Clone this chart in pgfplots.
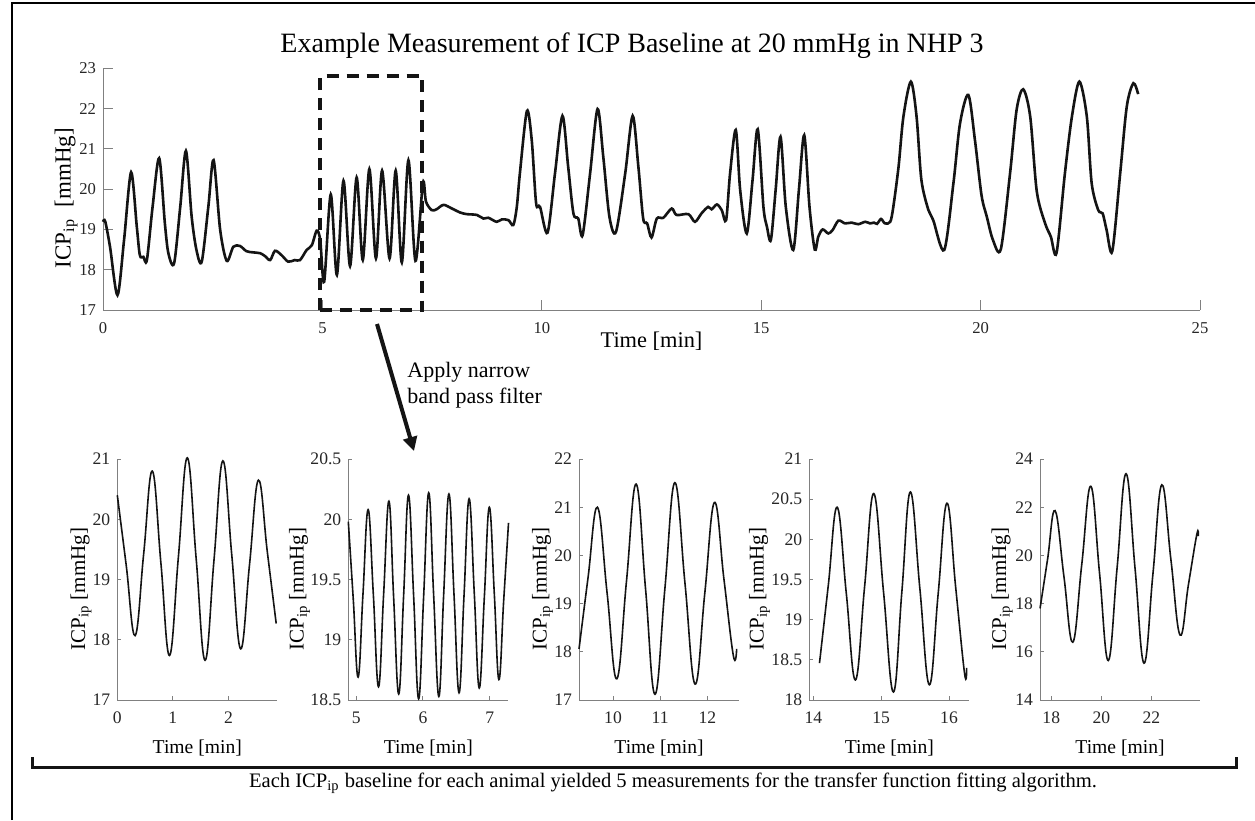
\documentclass[border=0pt]{standalone}
\usepackage{pgfplots}
\pgfplotsset{compat=1.18}
\usepackage{fontspec}
\setmainfont{Liberation Serif}
\usetikzlibrary{arrows.meta,calc}
\definecolor{axgray}{gray}{0.5}
\definecolor{tickc}{gray}{0.15}
\definecolor{curve}{gray}{0.08}
\pgfplotsset{
  base/.style={
    scale only axis, anchor=south west,
    axis x line*=bottom, axis y line*=left,
    axis line style={draw=axgray, line width=0.5bp},
    tick style={draw=axgray, line width=0.5bp},
    tick align=inside,
    /pgf/number format/assume math mode=true,
    tick label style={font=\fontsize{8.3bp}{9.6bp}\selectfont, text=tickc},
    xticklabel style={anchor=base, yshift=-11.5bp},
    clip=false,
  },
  yl/.style 2 args={ylabel style={at={($(axis description cs:0,#2)+(#1,0)$)}, anchor=south, inner sep=0pt}},
  small/.style={base, width=80bp, height=120.5bp, major tick length=2bp,
    tick label style={font=\fontsize{8.8bp}{10bp}\selectfont},
    xlabel style={at={(axis description cs:0.5,0)}, anchor=base, yshift=-26.5bp, font=\fontsize{9.8bp}{12bp}\selectfont},
    ylabel style={font=\fontsize{10.5bp}{12bp}\selectfont},
    xlabel={Time [min]}, ylabel={ICP\textsubscript{ip} [mmHg]},
  },
  sine/.style={smooth, tension=0.7, curve, line width=0.8bp},
}
\begin{document}
\begin{tikzpicture}[x=0.5bp,y=-0.5bp]
\useasboundingbox (0,0) rectangle (1255,820);
\fill[white] (0,0) rectangle (1255,820);
\draw[line width=1bp] (12,820) -- (12,3) -- (1255,3);

% main axis
\begin{axis}[base, at={(51.5bp,-155bp)}, width=548.5bp, height=120.85bp,
  xmin=0,xmax=25,ymin=17,ymax=23, xtick={0,5,...,25}, ytick={17,...,23},
  major tick length=5bp,
  xlabel={Time [min]},
  xlabel style={at={(axis description cs:0.5,0)},anchor=base,yshift=-18.5bp,font=\fontsize{11.2bp}{13bp}\selectfont},
  ylabel={ICP\textsubscript{ip}\ \ [mmHg]},
  ylabel style={font=\fontsize{11.5bp}{13bp}\selectfont},
  yl={-12.5bp}{0.463},
]
\addplot[smooth, curve, line width=1.3bp] coordinates {
(0.00,19.19)(0.05,19.20)(0.16,18.57)(0.33,17.37)(0.48,18.74)(0.64,20.42)(0.77,19.07)(0.84,18.36)(0.92,18.32)(1.00,18.24)
(1.13,19.56)(1.28,20.77)(1.41,19.15)(1.49,18.41)(1.62,18.16)(1.76,19.56)(1.89,20.95)(2.02,19.32)(2.13,18.49)(2.25,18.20)
(2.40,19.56)(2.52,20.72)(2.67,18.99)(2.82,18.22)(2.97,18.57)(3.12,18.59)(3.27,18.46)(3.43,18.43)(3.58,18.41)(3.69,18.34)
(3.81,18.24)(3.92,18.47)(4.07,18.36)(4.22,18.20)(4.37,18.24)(4.49,18.24)(4.64,18.49)(4.76,18.61)(4.87,18.97)(4.95,18.74)
(5.04,17.70)(5.19,19.87)(5.33,17.87)(5.48,20.21)(5.63,18.09)(5.78,20.29)(5.92,18.24)(6.07,20.50)(6.22,18.28)(6.36,20.46)
(6.53,18.28)(6.67,20.46)(6.81,18.18)(6.96,20.72)(7.12,18.22)(7.29,20.15)(7.36,19.69)(7.49,19.48)(7.60,19.50)(7.76,19.61)
(7.95,19.52)(8.14,19.42)(8.29,19.38)(8.52,19.36)(8.67,19.27)(8.78,19.29)(8.97,19.19)(9.09,19.25)(9.24,19.23)(9.35,19.11)
(9.43,19.56)(9.50,20.39)(9.66,21.94)(9.77,21.22)(9.87,19.65)(9.96,19.56)(10.13,18.92)(10.30,20.39)(10.47,21.82)(10.60,20.56)
(10.72,19.40)(10.83,19.27)(10.93,18.86)(11.10,20.39)(11.27,21.99)(11.40,20.81)(11.54,19.32)(11.69,18.94)(11.90,20.39)(12.07,21.82)
(12.20,20.56)(12.31,19.27)(12.40,19.15)(12.50,18.80)(12.62,19.27)(12.77,19.29)(12.96,19.52)(13.07,19.36)(13.34,19.38)(13.49,19.19)
(13.64,19.40)(13.79,19.56)(13.87,19.50)(13.99,19.62)(14.10,19.48)(14.20,19.23)(14.29,20.39)(14.42,21.47)(14.52,19.98)(14.67,18.90)
(14.80,20.20)(14.92,21.49)(15.05,19.56)(15.13,19.07)(15.22,18.74)(15.33,20.00)(15.44,21.30)(15.56,19.56)(15.73,18.49)(15.86,20.00)
(15.98,21.34)(16.10,19.56)(16.22,18.50)(16.30,18.82)(16.40,19.00)(16.53,18.90)(16.63,18.99)(16.76,19.22)(16.91,19.15)(17.06,19.17)
(17.21,19.13)(17.37,19.19)(17.48,19.15)(17.57,19.17)(17.64,19.14)(17.73,19.26)(17.82,19.15)(17.94,19.19)(18.01,19.56)(18.13,20.56)
(18.24,21.80)(18.41,22.67)(18.54,21.80)(18.65,20.23)(18.81,19.48)(18.92,19.23)(19.17,18.49)(19.38,20.15)(19.53,21.63)(19.72,22.34)
(19.87,21.22)(20.02,19.85)(20.14,19.32)(20.28,18.74)(20.46,18.51)(20.67,20.39)(20.82,21.97)(20.97,22.48)(21.13,21.80)(21.28,19.94)
(21.47,19.15)(21.60,18.82)(21.73,18.42)(21.92,20.39)(22.08,21.80)(22.25,22.67)(22.42,21.80)(22.53,20.15)(22.68,19.48)(22.78,19.40)
(22.87,18.99)(23.00,18.46)(23.18,20.39)(23.33,22.05)(23.48,22.63)(23.59,22.36)
};
\draw[curve, line width=2bp, dash pattern=on 6bp off 4bp] (axis cs:4.95,17) rectangle (axis cs:7.28,22.8);
\end{axis}

% annotation
\draw[curve, line width=2bp, -{Triangle[length=7bp,width=7bp]}] (377,324) -- (414,451);
\node[anchor=base west, inner sep=0pt, font=\fontsize{11bp}{13bp}\selectfont] at (407,377) {Apply narrow};
\node[anchor=base west, inner sep=0pt, font=\fontsize{11bp}{13bp}\selectfont] at (407,403) {band pass filter};

% small plots
\begin{axis}[small, yl={-12.65bp}{0.46}, at={(58.65bp,-350bp)}, xmin=0, xmax=2.88, ymin=17, ymax=21, xtick={0,1,2}, ytick={17,...,21}]
\addplot[sine] coordinates {
(0.00,20.40)(0.16,19.24)(0.32,18.07)(0.475,19.43)(0.63,20.80)(0.785,19.27)(0.94,17.74)(1.10,19.38)(1.26,21.02)(1.42,19.34)
(1.58,17.66)(1.74,19.32)(1.90,20.97)(2.06,19.41)(2.22,17.85)(2.38,19.25)(2.54,20.65)(2.70,19.46)(2.86,18.27)
};
\end{axis}
\begin{axis}[small, yl={-19bp}{0.46}, at={(174.15bp,-350bp)}, xmin=4.88, xmax=7.28, ymin=18.5, ymax=20.5, xtick={5,6,7}, ytick={18.5,19,...,20.5}]
\addplot[sine] coordinates {
(4.88,19.98)(4.955,19.33)(5.027,18.69)(5.10,19.38)(5.177,20.08)(5.255,19.38)(5.333,18.61)(5.41,19.38)(5.489,20.15)(5.56,19.35)
(5.636,18.55)(5.71,19.37)(5.783,20.20)(5.86,19.36)(5.935,18.51)(6.01,19.36)(6.086,20.22)(6.16,19.37)(6.238,18.53)(6.31,19.37)
(6.389,20.21)(6.465,19.38)(6.541,18.56)(6.615,19.36)(6.692,20.17)(6.77,19.38)(6.844,18.60)(6.92,19.35)(6.995,20.10)(7.07,19.38)
(7.139,18.67)(7.21,19.32)(7.283,19.97)
};
\end{axis}
\begin{axis}[small, yl={-12.85bp}{0.46}, at={(289.5bp,-350bp)}, xmin=9.28, xmax=12.67, ymin=17, ymax=22, xtick={10,11,12}, ytick={17,...,22}]
\addplot[sine] coordinates {
(9.28,18.06)(9.47,19.53)(9.67,21.00)(9.875,19.22)(10.08,17.44)(10.285,19.46)(10.49,21.48)(10.69,19.30)(10.89,17.12)(11.10,19.32)
(11.31,21.51)(11.525,19.42)(11.74,17.33)(11.945,19.22)(12.15,21.10)(12.35,19.51)(12.55,17.92)(12.62,18.06)
};
\end{axis}
\begin{axis}[small, yl={-19.5bp}{0.46}, at={(404.65bp,-350bp)}, xmin=13.94, xmax=16.3, ymin=18, ymax=21, xtick={14,15,16}, ytick={18,18.5,...,21}]
\addplot[sine] coordinates {
(14.09,18.46)(14.22,19.43)(14.35,20.40)(14.485,19.33)(14.62,18.25)(14.755,19.41)(14.89,20.57)(15.035,19.34)(15.18,18.10)(15.305,19.35)
(15.43,20.59)(15.57,19.39)(15.71,18.19)(15.84,19.32)(15.97,20.45)(16.10,19.39)(16.23,18.33)(16.26,18.40)
};
\end{axis}
\begin{axis}[small, yl={-13.5bp}{0.46}, at={(520bp,-350bp)}, xmin=17.55, xmax=23.95, ymin=14, ymax=24, xtick={18,20,22}, ytick={14,16,...,24}]
\addplot[sine] coordinates {
(17.55,17.80)(17.85,19.83)(18.15,21.86)(18.505,19.13)(18.86,16.40)(19.22,19.64)(19.58,22.87)(19.93,19.26)(20.28,15.64)(20.635,19.52)
(20.99,23.39)(21.35,19.46)(21.71,15.53)(22.065,19.23)(22.42,22.93)(22.785,19.82)(23.15,16.70)(23.485,18.79)(23.82,20.87)(23.88,20.80)
};
\end{axis}

% bracket and caption
\draw[curve, line width=1.5bp] (32,757) -- (32,767) -- (1236,767) -- (1236,757);
\node[anchor=base, inner sep=0pt, font=\fontsize{10.3bp}{12bp}\selectfont] at (673,787) {Each ICP\textsubscript{ip} baseline for each animal yielded 5 measurements for the transfer function fitting algorithm.};
\node[anchor=base, inner sep=0pt, font=\fontsize{14bp}{16bp}\selectfont] at (632,52) {Example Measurement of ICP Baseline at 20 mmHg in NHP 3};
\end{tikzpicture}
\end{document}
